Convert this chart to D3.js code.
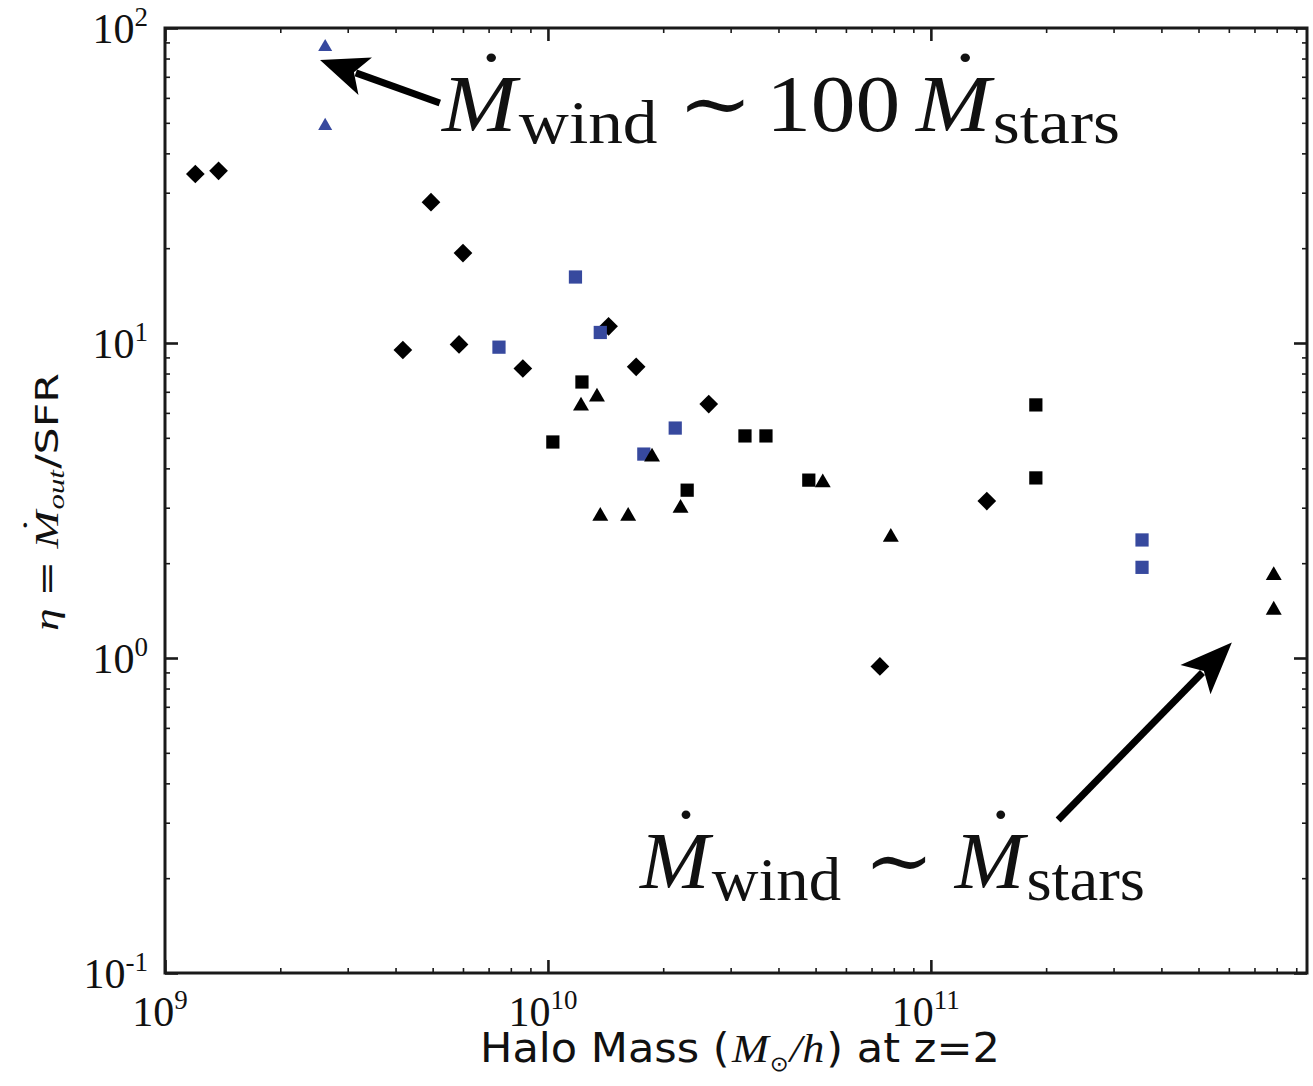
<!DOCTYPE html>
<html>
<head>
<meta charset="utf-8">
<script src="https://cdn.jsdelivr.net/npm/d3@7"></script>
<style>
body { margin: 0; background: #fff; }
</style>
</head>
<body>
<svg id="chart" width="1313" height="1086"></svg>
<script>
// halo mass (Msun/h) and eta = Mdot_out/SFR
var diamondMass = [1.2e9, 1.38e9, 4.95e9, 6.0e9, 4.18e9, 5.86e9, 8.6e9, 1.44e10, 1.70e10, 2.63e10, 1.40e11, 7.36e10];
var diamondEta  = [34.4, 35.2, 28.0, 19.3, 9.5, 9.9, 8.3, 11.3, 8.4, 6.4, 3.15, 0.94];

var blueSquareMass = [1.18e10, 1.37e10, 7.45e9, 2.15e10, 1.78e10, 3.56e11, 3.56e11];
var blueSquareEta  = [16.2, 10.8, 9.7, 5.37, 4.44, 2.37, 1.94];

var squareMass = [1.227e10, 1.03e10, 3.27e10, 3.71e10, 2.31e10, 4.8e10, 1.88e11, 1.88e11];
var squareEta  = [7.52, 4.85, 5.07, 5.07, 3.41, 3.67, 6.36, 3.73];

var triangleMass = [1.343e10, 1.22e10, 1.87e10, 1.37e10, 1.62e10, 2.22e10, 5.22e10, 7.86e10, 7.86e11, 7.86e11];
var triangleEta  = [6.74, 6.31, 4.35, 2.82, 2.82, 2.99, 3.6, 2.42, 1.83, 1.42];

var blueTriangleMass = [2.62e9, 2.62e9];
var blueTriangleEta  = [87.0, 48.9];

var xMajor = [1e9, 1e10, 1e11];
var xMajorExp = ["9", "10", "11"];
var yMajor = [0.1, 1, 10, 100];
var yMajorExp = ["-1", "0", "1", "2"];

var BLUE = "#37499e";
var INK = "#111";

var svg = d3.select("#chart");
var L = 165, R = 1307, T = 28, B = 973;

var x = d3.scaleLog().domain([1e9, 9.6e11]).range([L, R]);
var y = d3.scaleLog().domain([0.1, 100]).range([B, T]);

function minors(lo, hi, dom) {
	var out = [];
	for (var e = lo; e < hi; e++) {
		for (var k = 2; k < 10; k++) {
			var v = k * Math.pow(10, e);
			if (v > dom[0] && v < dom[1]) out.push(v);
		}
	}
	return out;
}
var xMinor = minors(9, 12, x.domain());
var yMinor = minors(-1, 2, y.domain());

// ticks on all four sides, pointing in
function tickGroup(axis, tx, ty, vals, size, w) {
	var g = svg.append("g")
		.attr("transform", "translate(" + tx + "," + ty + ")")
		.call(axis.tickValues(vals).tickSize(size).tickFormat(""));
	g.select(".domain").remove();
	g.selectAll("line").attr("stroke", "#1a1a1a").attr("stroke-width", w);
	return g;
}
tickGroup(d3.axisBottom(x), 0, B, xMinor, -5, 1.6);
tickGroup(d3.axisBottom(x), 0, B, xMajor, -13, 2.6);
tickGroup(d3.axisTop(x), 0, T, xMinor, -5, 1.6);
tickGroup(d3.axisTop(x), 0, T, xMajor, -13, 2.6);
tickGroup(d3.axisLeft(y), L, 0, yMinor, -5, 1.6);
tickGroup(d3.axisLeft(y), L, 0, yMajor, -13, 2.6);
tickGroup(d3.axisRight(y), R, 0, yMinor, -5, 1.6);
tickGroup(d3.axisRight(y), R, 0, yMajor, -13, 2.6);

svg.append("rect")
	.attr("x", L).attr("y", T)
	.attr("width", R - L).attr("height", B - T)
	.attr("fill", "none").attr("stroke", "#1a1a1a").attr("stroke-width", 3);

// tick labels, 10^n
var serif = "'Liberation Serif', 'DejaVu Serif', serif";
var sans = "'DejaVu Sans', sans-serif";
xMajor.forEach(function (v, i) {
	var t = svg.append("text")
		.attr("x", x(v) - 5).attr("y", B + 53)
		.attr("text-anchor", "middle")
		.attr("font-family", serif).attr("font-size", 42).attr("fill", INK);
	t.append("tspan").text("10");
	t.append("tspan").attr("font-size", 27).attr("dy", -17).text(xMajorExp[i]);
});
yMajor.forEach(function (v, i) {
	var t = svg.append("text")
		.attr("x", L - 17).attr("y", y(v) + 15)
		.attr("text-anchor", "end")
		.attr("font-family", serif).attr("font-size", 42).attr("fill", INK);
	t.append("tspan").text("10");
	t.append("tspan").attr("font-size", 27).attr("dy", -17).text(yMajorExp[i]);
});

// markers
function drawSeries(mass, eta, type, size, color, rot) {
	var sym = d3.symbol().type(type).size(size);
	svg.append("g").selectAll("path")
		.data(mass)
		.join("path")
		.attr("d", sym)
		.attr("fill", color)
		.attr("transform", function (d, i) {
			return "translate(" + x(d) + "," + y(eta[i]) + ") rotate(" + rot + ")";
		});
}
drawSeries(diamondMass, diamondEta, d3.symbolSquare, 175, "#000", 45);
drawSeries(blueSquareMass, blueSquareEta, d3.symbolSquare, 175, BLUE, 0);
drawSeries(squareMass, squareEta, d3.symbolSquare, 175, "#000", 0);
drawSeries(triangleMass, triangleEta, d3.symbolTriangle, 110, "#000", 0);
drawSeries(blueTriangleMass, blueTriangleEta, d3.symbolTriangle, 85, BLUE, 0);

// arrows (positions in data units)
function arrow(x0, y0, x1, y1, headLen, headW, shaftW) {
	var ax = x(x0), ay = y(y0), bx = x(x1), by = y(y1);
	var dx = bx - ax, dy = by - ay, len = Math.sqrt(dx * dx + dy * dy);
	var ux = dx / len, uy = dy / len, px = -uy, py = ux;
	var cx = bx - ux * headLen, cy = by - uy * headLen;
	svg.append("line")
		.attr("x1", ax).attr("y1", ay).attr("x2", cx + ux * 4).attr("y2", cy + uy * 4)
		.attr("stroke", "#000").attr("stroke-width", shaftW);
	var pts = [
		[bx, by],
		[cx - ux * 6 + px * headW, cy - uy * 6 + py * headW],
		[cx + ux * 6, cy + uy * 6],
		[cx - ux * 6 - px * headW, cy - uy * 6 - py * headW]
	];
	svg.append("polygon").attr("points", pts.map(function (p) { return p.join(","); }).join(" ")).attr("fill", "#000");
}
arrow(5.22e9, 57.8, 2.54e9, 79.1, 42, 20, 7);
arrow(2.15e11, 0.306, 6.11e11, 1.12, 46, 21, 7);

// lay out a math-like line piece by piece; returns group and natural width
function mathLine(pieces) {
	var g = svg.append("g");
	var inner = g.append("g");
	var cur = 0;
	pieces.forEach(function (p) {
		cur += p.gap || 0;
		var t = inner.append("text")
			.attr("x", cur).attr("y", p.dy || 0)
			.attr("font-family", p.font || serif)
			.attr("font-size", p.size)
			.attr("font-style", p.italic ? "italic" : "normal")
			.attr("fill", INK)
			.style("white-space", "pre")
			.text(p.text);
		var w = t.node().getComputedTextLength();
		if (p.dot) {
			inner.append("text")
				.attr("x", cur + w * p.dot).attr("y", -p.size * p.raise)
				.attr("text-anchor", "middle")
				.attr("font-family", serif).attr("font-size", p.size)
				.attr("fill", INK).text("\u02D9");
		}
		cur += w;
	});
	return {g: g, inner: inner, width: cur};
}
function placeLine(line, x0, y0, target) {
	line.g.attr("transform", "translate(" + x0 + "," + y0 + ")");
	line.inner.attr("transform", "scale(" + (target / line.width) + ",1)");
}

// annotations
var a1 = mathLine([
	{text: "M", italic: true, size: 80, dot: 0.66, raise: 0.3},
	{text: "wind", size: 62, dy: 12, gap: 2},
	{text: "\u223C", size: 80, gap: 18},
	{text: "100", size: 80, gap: 12},
	{text: "M", italic: true, size: 80, dot: 0.66, raise: 0.3, gap: 14},
	{text: "stars", size: 62, dy: 12, gap: 2}
]);
placeLine(a1, x(5.29e9), y(47.1), 678);

var a2 = mathLine([
	{text: "M", italic: true, size: 80, dot: 0.66, raise: 0.3},
	{text: "wind", size: 62, dy: 12, gap: 2},
	{text: "\u223C", size: 80, gap: 22},
	{text: "M", italic: true, size: 80, dot: 0.66, raise: 0.3, gap: 20},
	{text: "stars", size: 62, dy: 12, gap: 2}
]);
placeLine(a2, x(1.74e10), y(0.186), 505);

// axis titles
var xl = mathLine([
	{text: "Halo Mass (", font: sans, size: 40},
	{text: "M", italic: true, size: 41, gap: 2},
	{text: "\u2299", font: sans, size: 21, dy: 9, gap: 1},
	{text: "/", italic: true, size: 41, gap: 1},
	{text: "h", italic: true, size: 41},
	{text: ") at z=2", font: sans, size: 40, gap: 2}
]);
placeLine(xl, 480, 1062, 520);

var yl = mathLine([
	{text: "\u03B7", italic: true, size: 34},
	{text: "=", font: sans, size: 32, gap: 9},
	{text: "M", italic: true, size: 34, dot: 0.62, raise: 0.36, gap: 9},
	{text: "out", italic: true, size: 23, dy: 6, gap: 1},
	{text: "/SFR", font: sans, size: 32, gap: 1}
]);
yl.g.attr("transform", "translate(58,631) rotate(-90)");
yl.inner.attr("transform", "scale(" + (258 / yl.width) + ",1)");
</script>
</body>
</html>
